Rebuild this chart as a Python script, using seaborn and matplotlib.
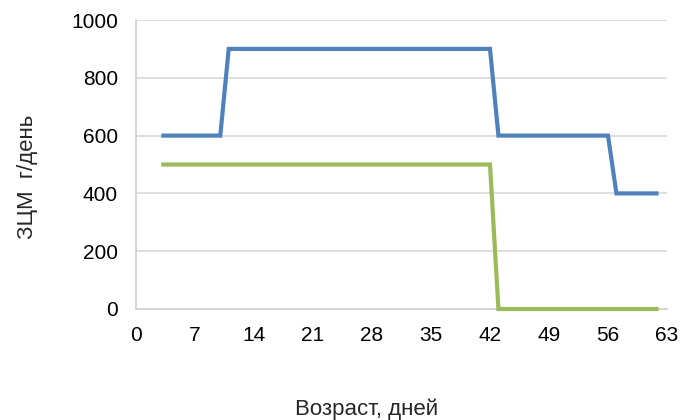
import matplotlib
matplotlib.use("Agg")
import matplotlib.pyplot as plt
import seaborn as sns
import pandas as pd

# Feeding schedule: whole-milk replacer (ЗЦМ) per day by calf age
days_a = [3, 10, 11, 42, 43, 56, 57, 62]
zcm_a = [600, 600, 900, 900, 600, 600, 400, 400]
days_b = [3, 42, 43, 62]
zcm_b = [500, 500, 0, 0]

x_ticks = [0, 7, 14, 21, 28, 35, 42, 49, 56, 63]
y_ticks = [0, 200, 400, 600, 800, 1000]

df = pd.concat([
    pd.DataFrame({"day": days_a, "zcm": zcm_a, "scheme": "A"}),
    pd.DataFrame({"day": days_b, "zcm": zcm_b, "scheme": "B"}),
], ignore_index=True)

sns.set_theme(style="white")
plt.rcParams["font.family"] = ["Liberation Sans", "DejaVu Sans"]

fig = plt.figure(figsize=(6.85, 4.2), dpi=100)
ax = fig.add_axes([136 / 685, 1 - 309 / 420, (667 - 136) / 685, (309 - 20) / 420])

sns.lineplot(data=df, x="day", y="zcm", hue="scheme",
             palette={"A": "#4F81BD", "B": "#9BBB59"},
             linewidth=3.0, legend=False, sort=False, ax=ax,
             estimator=None)
for ln in ax.lines:
    ln.set_solid_joinstyle("miter")
    ln.set_solid_capstyle("butt")
    ln.set_clip_on(False)
    ln.set_zorder(3)

ax.set_xlim(0, 63)
ax.set_ylim(0, 1000)
ax.set_xticks(x_ticks)
ax.set_yticks(y_ticks)
ax.set_xticklabels([str(t) for t in x_ticks])
ax.set_yticklabels([str(t) for t in y_ticks])
ax.tick_params(axis="both", length=0, labelsize=15, colors="#000000")
ax.tick_params(axis="x", pad=12)
ax.tick_params(axis="y", pad=13)

ax.grid(axis="y", color="#D9D9D9", linewidth=1.2)
ax.set_axisbelow(True)
for side in ["top", "right"]:
    ax.spines[side].set_visible(False)
for side in ["left", "bottom"]:
    ax.spines[side].set_color("#D0D0D0")
    ax.spines[side].set_linewidth(1.2)

ax.set_xlabel("")
ax.set_ylabel("")
fig.text(367 / 685, 1 - 409 / 420, "Возраст, дней", ha="center", va="center",
         fontsize=16)
fig.text(28 / 685, 1 - 177 / 420, "ЗЦМ  г/день", ha="center", va="center",
         rotation=90, fontsize=16)

fig.savefig("out.png", dpi=100)
